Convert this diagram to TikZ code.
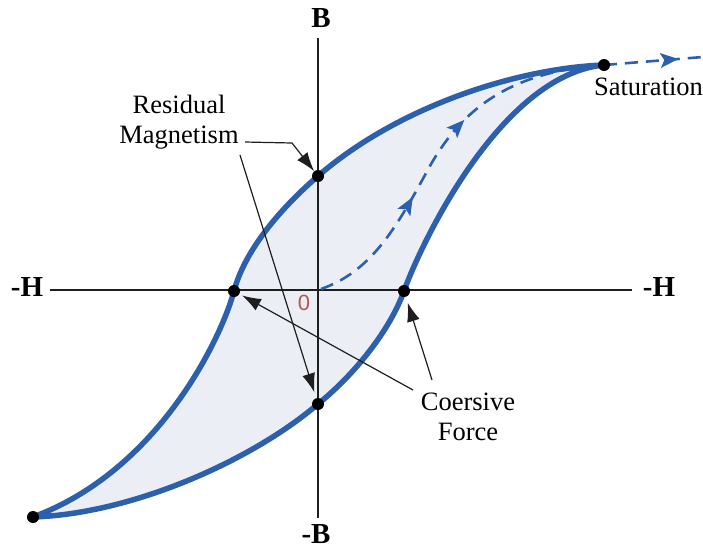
\documentclass[tikz,border=0pt]{standalone}
\usepackage{fontspec}
\setmainfont{Liberation Serif}
\newfontfamily\zerofont{Liberation Sans}
\usetikzlibrary{arrows.meta,decorations.markings}
\definecolor{loopblue}{HTML}{2C60AC}
\definecolor{loopfill}{HTML}{EBEFF5}
\definecolor{zerored}{HTML}{B8574F}
\definecolor{axisgray}{HTML}{1E1E1E}
\newcommand{\bluehead}{\fill[loopblue] (4pt,0pt) -- (-14pt,7.5pt) -- (-10pt,0pt) -- (-14pt,-7.5pt) -- cycle;}
\begin{document}
\begin{tikzpicture}[x=1pt,y=-1pt,
  axis/.style={line width=1.8pt,draw=axisgray},
  loopline/.style={line width=5.5pt,color=loopblue,line join=round},
  dot/.style={circle,fill=black,inner sep=0pt,minimum size=12pt},
  lbl/.style={font=\fontsize{26.5}{30}\selectfont,align=center,inner sep=0pt,text=black},
  axlbl/.style={font=\fontsize{29}{32}\selectfont\bfseries,inner sep=0pt},
  pointer/.style={line width=1.2pt,draw=axisgray,-{Latex[length=19pt,width=13pt]}},
  initcurve/.style={line width=2.6pt,color=loopblue,dash pattern=on 13pt off 8pt},
  dirtip/.style={decoration={markings,#1},postaction={decorate}}
]
\useasboundingbox (0,0) rectangle (703,550);
% key points
\coordinate (satp) at (604,65);
\coordinate (negsatp) at (33,517);
\coordinate (rtopp) at (318,176);
\coordinate (rbotp) at (318,404);
\coordinate (cleftp) at (234,291);
\coordinate (crightp) at (404,291);
\coordinate (orig) at (321,289);
\coordinate (satend) at (703,57);
% loop fill
\fill[loopfill] (satp) .. controls (520,68) and (400,105) .. (rtopp)
  .. controls (280,209) and (245,250) .. (cleftp)
  .. controls (222,336) and (160,470) .. (negsatp)
  .. controls (130,514) and (250,462) .. (rbotp)
  .. controls (355,374) and (390,330) .. (crightp)
  .. controls (420,246) and (500,75) .. (satp) -- cycle;
% axes
\coordinate (vtop) at (318,38);
\coordinate (vbot) at (318,518);
\coordinate (hleft) at (50,290);
\coordinate (hright) at (632,290);
\draw[axis] (vtop) -- (vbot);
\draw[axis] (hleft) -- (hright);
% loop outline
\draw[loopline] (satp) .. controls (520,68) and (400,105) .. (rtopp)
  .. controls (280,209) and (245,250) .. (cleftp)
  .. controls (222,336) and (160,470) .. (negsatp)
  .. controls (130,514) and (250,462) .. (rbotp)
  .. controls (355,374) and (390,330) .. (crightp)
  .. controls (420,246) and (500,75) .. (satp) -- cycle;
% initial magnetization curve
\draw[initcurve,dirtip={mark=at position 0.34 with {\bluehead},
    mark=at position 0.585 with {\bluehead}}]
  (orig) .. controls (370,272) and (395,230) .. (425,175)
  .. controls (455,118) and (500,72) .. (satp);
\draw[initcurve,dirtip={mark=at position 0.71 with {\bluehead}}]
  (satp) -- (satend);
% dots
\node[dot] (sat) at (satp) {};
\node[dot] (negsat) at (negsatp) {};
\node[dot] (rtop) at (rtopp) {};
\node[dot] (rbot) at (rbotp) {};
\node[dot] (cleft) at (cleftp) {};
\node[dot] (cright) at (crightp) {};
% labels
\node[axlbl] (Blbl) at (321,18) {B};
\node[axlbl] (mBlbl) at (316,534) {-B};
\node[axlbl] (mHleft) at (27,287) {-H};
\node[axlbl] (mHright) at (659,287) {-H};
\node[inner sep=0pt,font=\zerofont\fontsize{22}{24}\selectfont,text=zerored] (zero) at (304,303) {0};
\node[lbl] (resid) at (179,122) {Residual\\Magnetism};
\node[lbl] (coer) at (468,417) {Coersive\\Force};
\node[lbl] (satlbl) at (648.5,87) {Saturation};
% pointers
\coordinate (rs1) at (245,142);
\coordinate (rbend) at (292,143);
\coordinate (rs2) at (240,155);
\coordinate (cs1) at (432,380);
\coordinate (cs2) at (413,390);
\draw[pointer] (rs1) -- (rbend) -- (rtop);
\draw[pointer,shorten >=6pt] (rs2) -- (rbot);
\draw[pointer,shorten >=6pt] (cs1) -- (cright);
\draw[pointer,shorten >=3pt] (cs2) -- (cleft);
\end{tikzpicture}
\end{document}
